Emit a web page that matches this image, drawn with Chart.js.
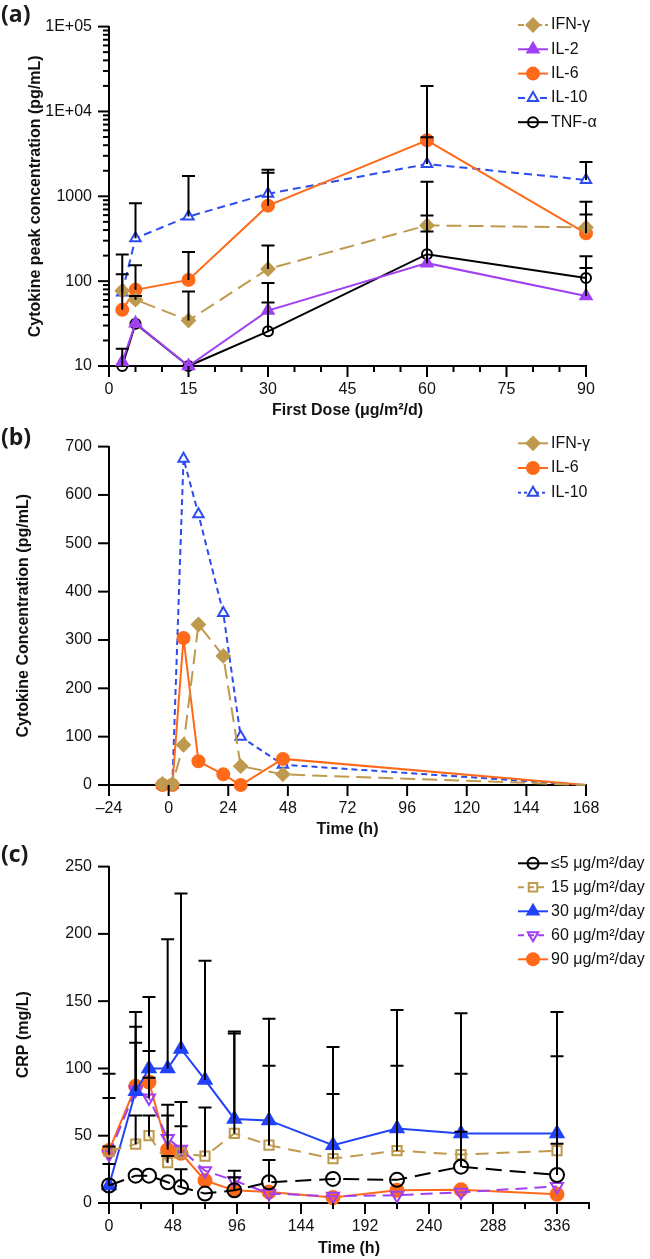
<!DOCTYPE html>
<html><head><meta charset="utf-8">
<script src="https://cdn.jsdelivr.net/npm/chart.js@4.4.0/dist/chart.umd.min.js"></script>
<style>
html,body{margin:0;padding:0;background:#fff;}
body{width:650px;height:1259px;position:relative;overflow:hidden;}
canvas{position:absolute;left:0;}
.lbl{position:absolute;left:1px;font:bold 23px "Open Sans","Liberation Sans",sans-serif;line-height:23px;color:#1a1a1a;}
</style></head><body>
<canvas id="ca" width="650" height="420" style="top:0"></canvas>
<canvas id="cb" width="650" height="420" style="top:420px"></canvas>
<canvas id="cc" width="650" height="419" style="top:840px"></canvas>
<div class="lbl" style="top:2px">(a)</div>
<div class="lbl" style="top:425px">(b)</div>
<div class="lbl" style="top:842px">(c)</div>
<script>
// ---------- Panel (a) data ----------
const dosesA = [2.5, 5, 15, 30, 60, 90];
const ifnA  = [77, 60.5, 34.4, 139, 454, 430];
const il2A  = [11.2, 32, 10, 45, 163, 67];
const il6A  = [45.9, 79, 103.5, 776, 4570, 366];
const il10A = [73.6, 320, 578, 1072, 2400, 1560];
const tnfA  = [10, 31.5, 10, 25.6, 208, 109];
const ifnAErr  = [null, 67, 75.6, 263, 1480, 865];
const il2AErr  = [null, null, null, 95, 386, 143];
const il6AErr  = [121, 154, 221, 1900, 19950, 610];
const il10AErr = [206, 826, 1740, 2060, 4960, 2530];
const tnfAErr  = [16, null, null, 56, 594, 197];
const yTickValsA = [10, 100, 1000, 10000, 100000];
const yTickTextA = ['10', '100', '1000', '1E+04', '1E+05'];

// ---------- Panel (b) data ----------
const timesB = [-2.5, 1.5, 6, 12, 22, 29, 46, 168];
const ifnB  = [2, 2, 83, 332, 267, 39, 22, 0];
const il6B  = [0, 0, 304, 49, 22, 0, 54, 0];
const il10B = [0, 0, 675, 560, 356, 100, 42, 0];
const xTickValsB = [-24, 0, 24, 48, 72, 96, 120, 144, 168];
const xTickTextB = ['\u201324', '0', '24', '48', '72', '96', '120', '144', '168'];

// ---------- Panel (c) data ----------
const timesC = [0, 20, 30, 44, 54, 72, 94, 120, 168, 216, 264, 336];
const crp5  = [13, 20.3, 20.3, 15.4, 11.8, 7, 9.4, 15.4, 17.9, 17.2, 27, 20.8];
const crp15 = [38.4, 43.7, 50, 30, 37, 34.8, 51.7, 43, 33, 38.9, 36, 38.9];
const crp30 = [13, 83, 100, 100, 114.5, 91.5, 62.5, 61.4, 43, 55.3, 51.7, 51.7];
const crp60 = [36, 84, 78, 48, 40, 24, 16.7, 7, 5, 5.8, 8, 12.3];
const crp90 = [39, 86.7, 90, 39.6, 37, 16.7, 9.4, 8.2, 4, 9.4, 9.9, 6.5];
const err5  = [29, null, null, null, 25, null, 19, 32, null, null, 53, 44];
const err15 = [42, 65, 65, 35, null, 71, 126, 102, 81, 102, 96, 109];
const err30 = [null, 119, 153, 196, 230, 180, 127.5, 137, 116, 143.5, 141, 142];
const err60 = [78, 131, 113, 73, 75, null, 24, null, null, null, null, null];
const err90 = [96, 142, 93, 65, 57, null, null, null, null, null, null, null];
const legendC = ['\u22645 \u03bcg/m\u00b2/day', '15 \u03bcg/m\u00b2/day', '30 \u03bcg/m\u00b2/day', '60 \u03bcg/m\u00b2/day', '90 \u03bcg/m\u00b2/day'];

// ---------- styling ----------
const TAN = '#BF9A4E', PURPLE = '#A040F2', ORANGE = '#FF6A1A', BLUE_A = '#2D4CF0', BLUE_C = '#2142FA', BLACK = '#000';
const FONT = '"Liberation Sans", Arial, sans-serif';
Chart.defaults.font.family = FONT;
Chart.defaults.color = '#111';

function pts(xs, ys) { return xs.map((x, i) => ({x: x, y: ys[i]})); }

const errPlugin = {
  id: 'errBars',
  afterDatasetsDraw(chart, args, opts) {
    const ctx = chart.ctx, xs = chart.scales.x, ys = chart.scales.y;
    ctx.save();
    ctx.strokeStyle = '#000'; ctx.lineWidth = 2; ctx.setLineDash([]);
    chart.data.datasets.forEach(ds => {
      if (!ds.errHi) return;
      ds.data.forEach((p, i) => {
        const hi = ds.errHi[i];
        if (hi == null) return;
        const x = xs.getPixelForValue(p.x), y0 = ys.getPixelForValue(p.y), y1 = ys.getPixelForValue(hi);
        ctx.beginPath();
        ctx.moveTo(x, y0); ctx.lineTo(x, y1);
        ctx.moveTo(x - opts.cap, y1); ctx.lineTo(x + opts.cap, y1);
        ctx.stroke();
      });
    });
    ctx.restore();
  }
};

const tickPlugin = {
  id: 'tickMarks',
  afterDraw(chart, args, opts) {
    const ctx = chart.ctx, ca = chart.chartArea;
    ctx.save(); ctx.strokeStyle = '#000'; ctx.lineWidth = 2; ctx.setLineDash([]);
    const xs = chart.scales.x, ys = chart.scales.y;
    xs.ticks.forEach(t => {
      const px = xs.getPixelForValue(t.value);
      const len = opts.xMajor(t.value) ? 11 : 6;
      ctx.beginPath(); ctx.moveTo(px, ca.bottom); ctx.lineTo(px, ca.bottom + len); ctx.stroke();
    });
    ys.ticks.forEach(t => {
      const py = ys.getPixelForValue(t.value);
      const len = opts.yMajor(t.value) ? 11 : 6;
      ctx.beginPath(); ctx.moveTo(ca.left, py); ctx.lineTo(ca.left - len, py); ctx.stroke();
    });
    ctx.restore();
  }
};

const legendPlugin = {
  id: 'inLegend',
  afterDraw(chart, args, opts) {
    const ctx = chart.ctx;
    ctx.save();
    chart.data.datasets.forEach((ds, i) => {
      const y = opts.y0 + i * opts.dy, x0 = opts.x0, x1 = opts.x0 + opts.len;
      ctx.strokeStyle = ds.borderColor; ctx.lineWidth = ds.borderWidth;
      ctx.setLineDash(ds.legendDash || []);
      ctx.beginPath(); ctx.moveTo(x0, y); ctx.lineTo(x1, y); ctx.stroke();
      ctx.setLineDash([]);
      ctx.fillStyle = ds.pointBackgroundColor; ctx.strokeStyle = ds.pointBorderColor; ctx.lineWidth = ds.pointBorderWidth;
      Chart.helpers.drawPoint(ctx, {pointStyle: ds.pointStyle, rotation: ds.pointRotation || 0, radius: ds.legendRadius, borderWidth: ds.pointBorderWidth}, (x0 + x1) / 2, y);
      ctx.fillStyle = '#111'; ctx.font = '16px ' + FONT; ctx.textBaseline = 'middle'; ctx.textAlign = 'left';
      ctx.fillText(ds.label, opts.tx, y);
    });
    ctx.restore();
  }
};

function lineDs(label, data, color, opt) {
  return Object.assign({
    label: label, data: data, borderColor: color, borderWidth: 2, tension: 0, clip: false,
    pointBorderColor: color, pointBackgroundColor: color, pointBorderWidth: 2,
    pointRadius: 6, legendRadius: 6, pointStyle: 'circle', borderDash: [], legendDash: []
  }, opt);
}

function axisTitle(text, pad) {
  return {display: true, text: text, color: '#111', font: {size: 16, weight: 'bold', family: FONT}, padding: pad};
}

function baseOptions(cfg) {
  return {
    responsive: false, animation: false, events: [], devicePixelRatio: 1,
    layout: {padding: {left: 0, top: cfg.top, right: 650 - cfg.right, bottom: 0}},
    plugins: {
      legend: {display: false}, tooltip: {enabled: false},
      errBars: {cap: 6.5},
      tickMarks: {xMajor: cfg.xMajor, yMajor: cfg.yMajor},
      inLegend: cfg.legend
    },
    scales: {
      x: Object.assign({
        type: 'linear', position: 'bottom',
        border: {color: '#000', width: 2},
        grid: {display: true, drawOnChartArea: false, drawTicks: false},
        title: axisTitle(cfg.xTitle, {top: 0, bottom: cfg.xTitlePad}),
        afterFit: s => { s.height = cfg.height - cfg.bottom; }
      }, cfg.x),
      y: Object.assign({
        type: 'linear', position: 'left',
        border: {color: '#000', width: 2},
        grid: {display: true, drawOnChartArea: false, drawTicks: false},
        title: axisTitle(cfg.yTitle, {top: cfg.yTitlePad, bottom: 0}),
        afterFit: s => { s.width = 109; }
      }, cfg.y)
    }
  };
}
const xTickFont = {autoSkip: false, maxRotation: 0, padding: 14, color: '#111', font: {size: 16}};
const yTickFont = {autoSkip: false, padding: 17, color: '#111', font: {size: 16}};

// ---------- Chart (a) ----------
const optA = baseOptions({
  top: 23, right: 586, bottom: 366, height: 420,
  xTitle: 'First Dose (\u03bcg/m\u00b2/d)', xTitlePad: 0,
  yTitle: 'Cytokine peak concentration (pg/mL)', yTitlePad: 26,
  xMajor: v => v % 15 === 0,
  yMajor: v => yTickValsA.includes(v),
  legend: {x0: 518, len: 30, tx: 551, y0: 25, dy: 24.3},
  x: {min: 0, max: 90, ticks: Object.assign({}, xTickFont, {stepSize: 5,
      callback: v => (v % 15 === 0 ? String(v) : '')})},
  y: {type: 'logarithmic', min: 10, max: 100000,
      afterBuildTicks: s => {
        const t = [];
        for (let e = 1; e <= 4; e++) for (let m = 1; m <= 9; m++) t.push({value: m * Math.pow(10, e)});
        t.push({value: 100000});
        s.ticks = t;
      },
      ticks: Object.assign({}, yTickFont, {
        callback: v => { const k = yTickValsA.indexOf(v); return k >= 0 ? yTickTextA[k] : ''; }})}
});
new Chart(document.getElementById('ca'), {
  type: 'line',
  data: {datasets: [
    lineDs('IFN-\u03b3', pts(dosesA, ifnA), TAN, {pointStyle: 'rectRot', pointRadius: 6.5, legendRadius: 6.5, borderDash: [15, 7], legendDash: [6, 3], errHi: ifnAErr}),
    lineDs('IL-2', pts(dosesA, il2A), PURPLE, {pointStyle: 'triangle', pointRadius: 6.5, legendRadius: 6.5, errHi: il2AErr}),
    lineDs('IL-6', pts(dosesA, il6A), ORANGE, {pointStyle: 'circle', pointRadius: 6, errHi: il6AErr}),
    lineDs('IL-10', pts(dosesA, il10A), BLUE_A, {pointStyle: 'triangle', pointBackgroundColor: '#fff', pointRadius: 6, borderDash: [8, 5], legendDash: [7, 4], errHi: il10AErr}),
    lineDs('TNF-\u03b1', pts(dosesA, tnfA), BLACK, {pointStyle: 'circle', pointBackgroundColor: 'rgba(0,0,0,0)', pointRadius: 5, legendRadius: 5, errHi: tnfAErr})
  ]},
  options: optA,
  plugins: [errPlugin, tickPlugin, legendPlugin]
});

// ---------- Chart (b) ----------
const optB = baseOptions({
  top: 21, right: 586, bottom: 365, height: 420,
  xTitle: 'Time (h)', xTitlePad: 1,
  yTitle: 'Cytokine Concentration (pg/mL)', yTitlePad: 14,
  xMajor: v => true, yMajor: v => true,
  legend: {x0: 518, len: 30, tx: 551, y0: 23.3, dy: 24.7},
  x: {min: -24, max: 168, ticks: Object.assign({}, xTickFont, {stepSize: 24,
      callback: v => { const k = xTickValsB.indexOf(v); return k >= 0 ? xTickTextB[k] : ''; }})},
  y: {min: 0, max: 700, ticks: Object.assign({}, yTickFont, {stepSize: 100})}
});
const rB = r => (c => (c.raw && c.raw.x >= 168 ? 0 : r));
new Chart(document.getElementById('cb'), {
  type: 'line',
  data: {datasets: [
    lineDs('IFN-\u03b3', pts(timesB, ifnB), TAN, {pointStyle: 'rectRot', pointRadius: rB(6.5), legendRadius: 6.5, borderDash: [15, 7], legendDash: []}),
    lineDs('IL-6', pts(timesB, il6B), ORANGE, {pointStyle: 'circle', pointRadius: rB(6), legendRadius: 6}),
    lineDs('IL-10', pts(timesB, il10B), BLUE_A, {pointStyle: 'triangle', pointBackgroundColor: '#fff', pointRadius: rB(6), legendRadius: 6, borderDash: [6, 4], legendDash: [3, 3]})
  ]},
  options: optB,
  plugins: [tickPlugin, legendPlugin]
});

// ---------- Chart (c) ----------
const optC = baseOptions({
  top: 18, right: 589, bottom: 363, height: 419,
  xTitle: 'Time (h)', xTitlePad: 1,
  yTitle: 'CRP (mg/L)', yTitlePad: 14,
  xMajor: v => v % 48 === 0, yMajor: v => true,
  legend: {x0: 518, len: 30, tx: 551, y0: 23.3, dy: 24},
  x: {min: 0, max: 360, ticks: Object.assign({}, xTickFont, {stepSize: 24,
      callback: v => (v % 48 === 0 && v <= 336 ? String(v) : '')})},
  y: {min: 0, max: 250, ticks: Object.assign({}, yTickFont, {stepSize: 50})}
});
new Chart(document.getElementById('cc'), {
  type: 'line',
  data: {datasets: [
    lineDs(legendC[0], pts(timesC, crp5), BLACK, {pointStyle: 'circle', pointBackgroundColor: 'rgba(0,0,0,0)', pointRadius: 7, legendRadius: 5.5, borderDash: [16, 8], legendDash: [], errHi: err5}),
    lineDs(legendC[1], pts(timesC, crp15), TAN, {pointStyle: 'rect', pointBackgroundColor: 'rgba(255,255,255,0)', pointRadius: 6.5, legendRadius: 6, borderDash: [13, 8], legendDash: [6, 4], errHi: err15}),
    lineDs(legendC[2], pts(timesC, crp30), BLUE_C, {pointStyle: 'triangle', pointRadius: 7.5, legendRadius: 6.5, errHi: err30}),
    lineDs(legendC[3], pts(timesC, crp60), PURPLE, {pointStyle: 'triangle', pointRotation: 180, rotation: 180, pointBackgroundColor: 'rgba(255,255,255,0)', pointRadius: 7, legendRadius: 6, borderDash: [12, 7], legendDash: [6, 4], errHi: err60}),
    lineDs(legendC[4], pts(timesC, crp90), ORANGE, {pointStyle: 'circle', pointRadius: 6.5, legendRadius: 6, errHi: err90})
  ]},
  options: optC,
  plugins: [errPlugin, tickPlugin, legendPlugin]
});
</script>
</body></html>
